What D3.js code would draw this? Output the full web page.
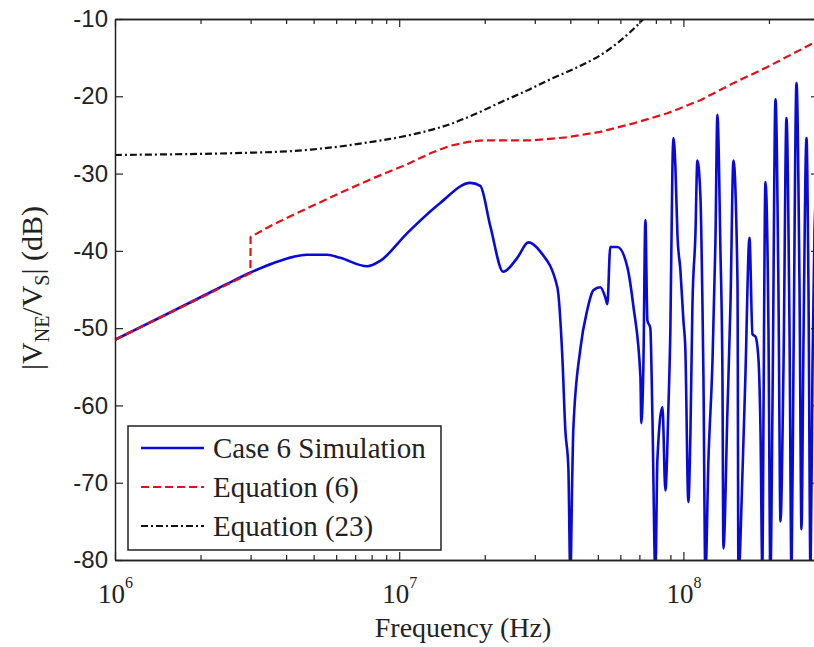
<!DOCTYPE html>
<html><head><meta charset="utf-8">
<script src="https://cdn.jsdelivr.net/npm/d3@7"></script>
<style>body{margin:0;background:#fff}svg{display:block}</style>
</head><body>
<script>
// ---- data ----
const simFreqMHz = [1.00,1.5,2.0,2.5,3.00,3.60,4.74,5.58,6.20,7.72,8.57,10.67,13.95,17.78,19.29,20.92,23.24,26.03,28.47,31.37,36.01,37.50,38.42,39.37,40.01,40.67,41.00,43.39,45.92,48.2,51.0,53.1,54.0,55.3,58.6,63.5,66.7,70.6,71.1,72.3,73.5,74.7,76.5,77.8,79.7,81.0,84.4,86.4,88.6,90.0,91.5,92.2,93.7,95.3,97.6,100,101.6,104.1,105.8,107.6,110.2,112.0,114.8,116.7,117.6,119.5,122.5,126.5,129.6,131.7,135.0,137.2,138.3,142.9,146.4,150.0,155.0,156.2,161.3,165.3,170.8,175.0,179.3,183.7,186.7,189.7,191.2,194.4,199.2,202.4,205.8,210.9,216.0,219.6,225.0,230.5,236.2,240.1,243.9,250.0,256.2,260.3,264.5,271.1,275.5,280.1,284.6,289.3,296.3];
const simDb = [-51.5,-48.3,-46.0,-44.2,-42.8,-41.6,-40.5,-40.5,-40.9,-42.0,-41.3,-37.7,-33.8,-31.2,-31.6,-36.8,-42.7,-40.9,-38.9,-40.1,-44.7,-53.7,-63.2,-68.0,-82,-68.5,-63.0,-52.7,-47.6,-45.1,-44.7,-46.0,-46.9,-39.5,-39.5,-42.1,-47.2,-56.3,-62.3,-55.0,-36.0,-49.0,-50.0,-61.5,-82,-67.0,-60.2,-71.0,-60.0,-50.0,-29.1,-25.4,-29.0,-38.0,-42.5,-49.0,-52.8,-72.5,-64,-47,-38,-28.3,-33,-47,-56,-82,-67,-54.5,-39,-22.4,-40,-56,-78.5,-60.6,-47,-28.3,-44,-82,-69,-56,-38.3,-50.8,-51.1,-54,-63,-82,-63,-31.1,-50,-82,-60,-20.4,-45,-75,-55,-22.8,-50,-82,-55,-18.3,-45,-76,-52,-25.4,-45,-82,-55,-37.3,-30];

const eq6FreqMHz = [1.0,2.995,3.0,3.60,4.74,6.20,8.10,10.67,13.0,15.12,17.5,19.76,29.64,39.05,51.0,66.7,87.8,114.8,150.0,197.6,287.0,300];
const eq6Db = [-51.5,-42.9,-38.2,-36.6,-34.5,-32.5,-30.6,-28.8,-27.3,-26.4,-25.9,-25.7,-25.7,-25.3,-24.6,-23.5,-22.2,-20.5,-18.3,-16.2,-13.1,-12.8];

const eq23FreqMHz = [1.0,2.0,3.0,4.13,5.86,8.0,10.0,12.5,15.12,18.5,22.68,28.0,34.0,42.0,51.0,60.0,70.6,83.0];
const eq23Db = [-27.6,-27.45,-27.3,-27.1,-26.6,-25.9,-25.3,-24.5,-23.6,-22.3,-20.8,-19.3,-17.8,-16.3,-14.7,-12.8,-10.4,-7.5];

const legendLabels = ["Case 6 Simulation","Equation (6)","Equation (23)"];
const yTicks = [-80,-70,-60,-50,-40,-30,-20,-10];
const xMajorTicks = [1e6,1e7,1e8];
const xMajorExp = ["6","7","8"];

// ---- layout ----
const W = 814, H = 647;
const L = 115, R = 819, T = 19, B = 560;
const serif = "'Liberation Serif','Times New Roman',Times,serif";
const sans = "'Liberation Sans',Arial,Helvetica,sans-serif";

const svg = d3.select("body").append("svg").attr("width", W).attr("height", H);

const x = d3.scaleLog().domain([1e6, 3e8]).range([L, R]);
const y = d3.scaleLinear().domain([-80, -10]).range([B, T]);

const minorTicks = [];
for (let d = 1e6; d < 3e8; d *= 10) for (let k = 2; k <= 9; k++) if (k * d <= 3e8) minorTicks.push(k * d);

svg.append("defs").append("clipPath").attr("id", "clip")
  .append("rect").attr("x", L).attr("y", T).attr("width", R - L).attr("height", B - T);

// series
const toPts = (f, v) => f.map((d, i) => [d * 1e6, v[i]]);
const mkLine = c => d3.line().x(d => x(d[0])).y(d => y(d[1])).curve(c);
const plot = svg.append("g").attr("clip-path", "url(#clip)");

const series = [
  {pts: toPts(simFreqMHz, simDb), color: "#0a0ad8", w: 2.6, dash: null, curve: d3.curveMonotoneX},
  {pts: toPts(eq6FreqMHz, eq6Db), color: "#e3101a", w: 2.2, dash: "8,4", curve: d3.curveLinear},
  {pts: toPts(eq23FreqMHz, eq23Db), color: "#111", w: 2.2, dash: "7,3,2,3", curve: d3.curveCatmullRom}
];
series.forEach(s => {
  plot.append("path").datum(s.pts).attr("d", mkLine(s.curve))
    .attr("fill", "none").attr("stroke", s.color).attr("stroke-width", s.w)
    .attr("stroke-dasharray", s.dash).attr("stroke-linejoin", "round");
});

// axes
function style(g) {
  g.select(".domain").attr("stroke", "#222").attr("stroke-width", 1.5);
  g.selectAll(".tick line").attr("stroke", "#222").attr("stroke-width", 1.2);
}
// bottom
svg.append("g").attr("transform", `translate(0,${B})`)
  .call(d3.axisBottom(x).tickValues(minorTicks).tickSizeInner(-5).tickSizeOuter(0).tickFormat(() => ""))
  .call(style);
const xb = svg.append("g").attr("transform", `translate(0,${B})`)
  .call(d3.axisBottom(x).tickValues(xMajorTicks).tickSizeInner(-8).tickSizeOuter(0).tickFormat(() => ""))
  .call(style);
xb.selectAll(".tick text").remove();
xb.selectAll(".tick").append("text")
  .attr("y", 43).attr("text-anchor", "middle")
  .attr("font-family", serif).attr("font-size", 27).attr("fill", "#222")
  .each(function(d, i) {
    const t = d3.select(this);
    t.append("tspan").text("10");
    t.append("tspan").attr("dy", -15).attr("font-size", 16).text(xMajorExp[i]);
  });
// top
svg.append("g").attr("transform", `translate(0,${T})`)
  .call(d3.axisTop(x).tickValues(minorTicks).tickSizeInner(-5).tickSizeOuter(0).tickFormat(() => ""))
  .call(style);
svg.append("g").attr("transform", `translate(0,${T})`)
  .call(d3.axisTop(x).tickValues(xMajorTicks).tickSizeInner(-8).tickSizeOuter(0).tickFormat(() => ""))
  .call(style);
// left
const yl = svg.append("g").attr("transform", `translate(${L},0)`)
  .call(d3.axisLeft(y).tickValues(yTicks).tickSizeInner(-8).tickSizeOuter(0).tickPadding(7).tickFormat(d => String(d)))
  .call(style);
yl.selectAll(".tick text").attr("font-family", sans).attr("font-size", 24).attr("fill", "#222");
// right
svg.append("g").attr("transform", `translate(${R},0)`)
  .call(d3.axisRight(y).tickValues(yTicks).tickSizeInner(-8).tickSizeOuter(0).tickFormat(() => ""))
  .call(style);

// axis titles
svg.append("text").attr("x", 463).attr("y", 637).attr("text-anchor", "middle")
  .attr("font-family", serif).attr("font-size", 28).attr("fill", "#222").text("Frequency (Hz)");
const yt = svg.append("text").attr("transform", "translate(42,288) rotate(-90)")
  .attr("text-anchor", "middle").attr("font-family", serif).attr("font-size", 30).attr("fill", "#222");
yt.append("tspan").text("|V");
yt.append("tspan").attr("font-size", 20).attr("dy", 7).text("NE");
yt.append("tspan").attr("dy", -7).text("/V");
yt.append("tspan").attr("font-size", 20).attr("dy", 7).text("S");
yt.append("tspan").attr("dy", -7).text("| (dB)");

// legend
const lg = svg.append("g");
lg.append("rect").attr("x", 128).attr("y", 426).attr("width", 313).attr("height", 124)
  .attr("fill", "#fff").attr("stroke", "#222").attr("stroke-width", 1.5);
legendLabels.forEach((lab, i) => {
  const cy = 448 + i * 39;
  const s = series[i];
  lg.append("line").attr("x1", 141).attr("x2", 204).attr("y1", cy).attr("y2", cy)
    .attr("stroke", s.color).attr("stroke-width", s.w).attr("stroke-dasharray", s.dash);
  lg.append("text").attr("x", 213).attr("y", cy + 10)
    .attr("font-family", serif).attr("font-size", 29).attr("fill", "#222").text(lab);
});
</script>
</body></html>
